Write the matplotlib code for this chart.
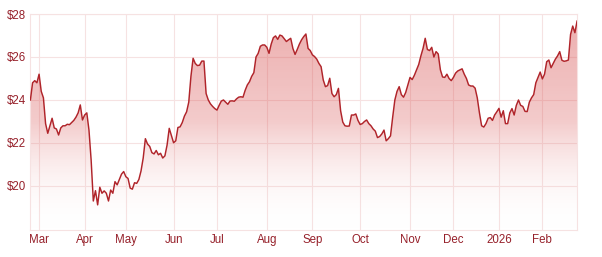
import numpy as np
import pandas as pd
import matplotlib
matplotlib.use("Agg")
import matplotlib.pyplot as plt
from matplotlib.colors import LinearSegmentedColormap

# ---- data ----
start_date = "2025-02-25"
end_date = "2026-02-24"
holidays = ["2025-04-18", "2025-04-21", "2025-04-25", "2025-06-09",
            "2025-12-25", "2025-12-26", "2026-01-01", "2026-01-26"]

prices = [
    24.0, 24.8, 24.9, 24.8, 25.2, 24.4, 24.1, 22.9, 22.45, 22.8,
    23.15, 22.7, 22.65, 22.37, 22.7, 22.8, 22.8, 22.87, 22.85, 22.95,
    23.05, 23.2, 23.4, 23.77, 23.07, 23.3, 23.4, 22.6, 21.2, 19.3,
    19.78, 19.12, 19.94, 19.66, 19.77, 19.66, 19.3, 19.81, 19.66, 20.2,
    20.05, 20.3, 20.55, 20.67, 20.43, 20.35, 19.9, 19.85, 20.15, 20.12,
    20.3, 20.7, 21.3, 22.2, 21.95, 21.84, 21.55, 21.49, 21.65, 21.45,
    21.52, 21.3, 21.4, 21.9, 22.68, 22.35, 22.01, 22.1, 22.72, 22.75,
    22.95, 23.25, 23.45, 23.9, 25.1, 25.94, 25.7, 25.6, 25.62, 25.81,
    25.81, 24.3, 24.0, 23.82, 23.7, 23.6, 23.53, 23.75, 23.95, 24.0,
    23.9, 23.8, 23.95, 23.96, 23.94, 24.05, 24.13, 24.15, 24.13, 24.45,
    24.7, 24.85, 25.1, 25.27, 26.0, 26.17, 26.5, 26.56, 26.56, 26.45,
    26.17, 26.6, 26.9, 26.98, 26.82, 27.02, 26.98, 26.85, 26.72, 26.8,
    26.87, 26.4, 26.12, 26.35, 26.6, 26.8, 26.95, 27.07, 26.4, 26.3,
    26.1, 26.02, 25.9, 25.7, 25.55, 24.93, 24.62, 24.67, 25.01, 24.3,
    24.15, 24.25, 24.54, 23.5, 22.97, 22.8, 22.78, 22.79, 23.3, 23.3,
    23.35, 23.05, 22.86, 22.9, 23.0, 23.07, 22.9, 22.8, 22.65, 22.55,
    22.25, 22.3, 22.42, 22.6, 22.1, 22.2, 22.33, 23.2, 24.0, 24.4,
    24.62, 24.25, 24.13, 24.35, 24.7, 25.05, 24.95, 25.15, 25.4, 25.65,
    26.05, 26.4, 26.87, 26.35, 26.3, 26.45, 26.0, 26.25, 26.14, 25.4,
    25.07, 25.05, 25.2, 25.0, 24.9, 25.05, 25.25, 25.35, 25.4, 25.45,
    25.2, 25.0, 24.7, 24.65, 24.65, 24.55, 24.1, 23.4, 22.8, 22.74,
    22.9, 23.15, 23.18, 23.05, 23.3, 23.45, 23.61, 23.2, 23.5, 22.9,
    22.9, 23.4, 23.6, 23.3, 23.75, 24.0, 23.75, 23.7, 23.47, 23.46,
    23.9, 24.1, 24.25, 24.8, 25.05, 25.3, 24.98, 25.2, 25.78, 25.86,
    25.5, 25.7, 25.9, 26.05, 26.25, 25.85, 25.8, 25.82, 25.86, 27.05,
    27.44, 27.13, 27.67,
]

month_labels = ["Mar", "Apr", "May", "Jun", "Jul", "Aug", "Sep", "Oct",
                "Nov", "Dec", "2026", "Feb"]
y_ticks = [20, 22, 24, 26, 28]
y_tick_labels = ["$20", "$22", "$24", "$26", "$28"]

# ---- build ----
dates = pd.bdate_range(start_date, end_date, freq="C", holidays=holidays)
n = min(len(dates), len(prices))
dates = dates[:n]
y = np.array(prices[:n])
x = np.arange(n)

# first trading day of each month (skip the partial first month)
months = dates.to_period("M")
tick_pos = [i for i in range(1, n) if months[i] != months[i - 1]]
tick_pos = tick_pos[:len(month_labels)]

line_color = "#b0242a"
text_color = "#96202a"
grid_color = "#f6e2e2"

fig = plt.figure(figsize=(6.02, 2.57), dpi=100)
ax = fig.add_axes([0.0505, 0.105, 0.9088, 0.8405])

ymin, ymax = 17.95, 28.0
ax.set_xlim(0, n - 1 + 0.2)
ax.set_ylim(ymin, ymax)

# gradient fill under the line
cmap = LinearSegmentedColormap.from_list(
    "g", [(1, 1, 1, 0.0), (0.85, 0.32, 0.32, 0.30), (0.84, 0.30, 0.30, 0.46)])
grad = np.linspace(0, 1, 256).reshape(-1, 1)
im = ax.imshow(grad, cmap=cmap, aspect="auto", origin="lower",
               extent=[0, n - 1, ymin, ymax], zorder=1, interpolation="bicubic")
poly = ax.fill_between(x, y, ymin, color="none", lw=0)
clip = poly.get_paths()[0]
im.set_clip_path(clip, transform=ax.transData)

ax.plot(x, y, color=line_color, lw=1.05, zorder=3, solid_joinstyle="round")

ax.set_yticks(y_ticks)
ax.set_yticklabels(y_tick_labels)
ax.set_xticks(tick_pos)
ax.set_xticklabels(month_labels)

for lab in ax.get_xticklabels() + ax.get_yticklabels():
    lab.set_fontfamily(["Liberation Sans", "DejaVu Sans"])
    lab.set_fontsize(8.3)
    lab.set_color(text_color)

ax.tick_params(length=0, pad=3)
ax.tick_params(axis="y", pad=3)
ax.grid(True, color=grid_color, lw=0.8, zorder=0)
ax.set_axisbelow(True)
for s in ax.spines.values():
    s.set_color(grid_color)
    s.set_linewidth(0.8)

fig.savefig("out.png", dpi=100)
